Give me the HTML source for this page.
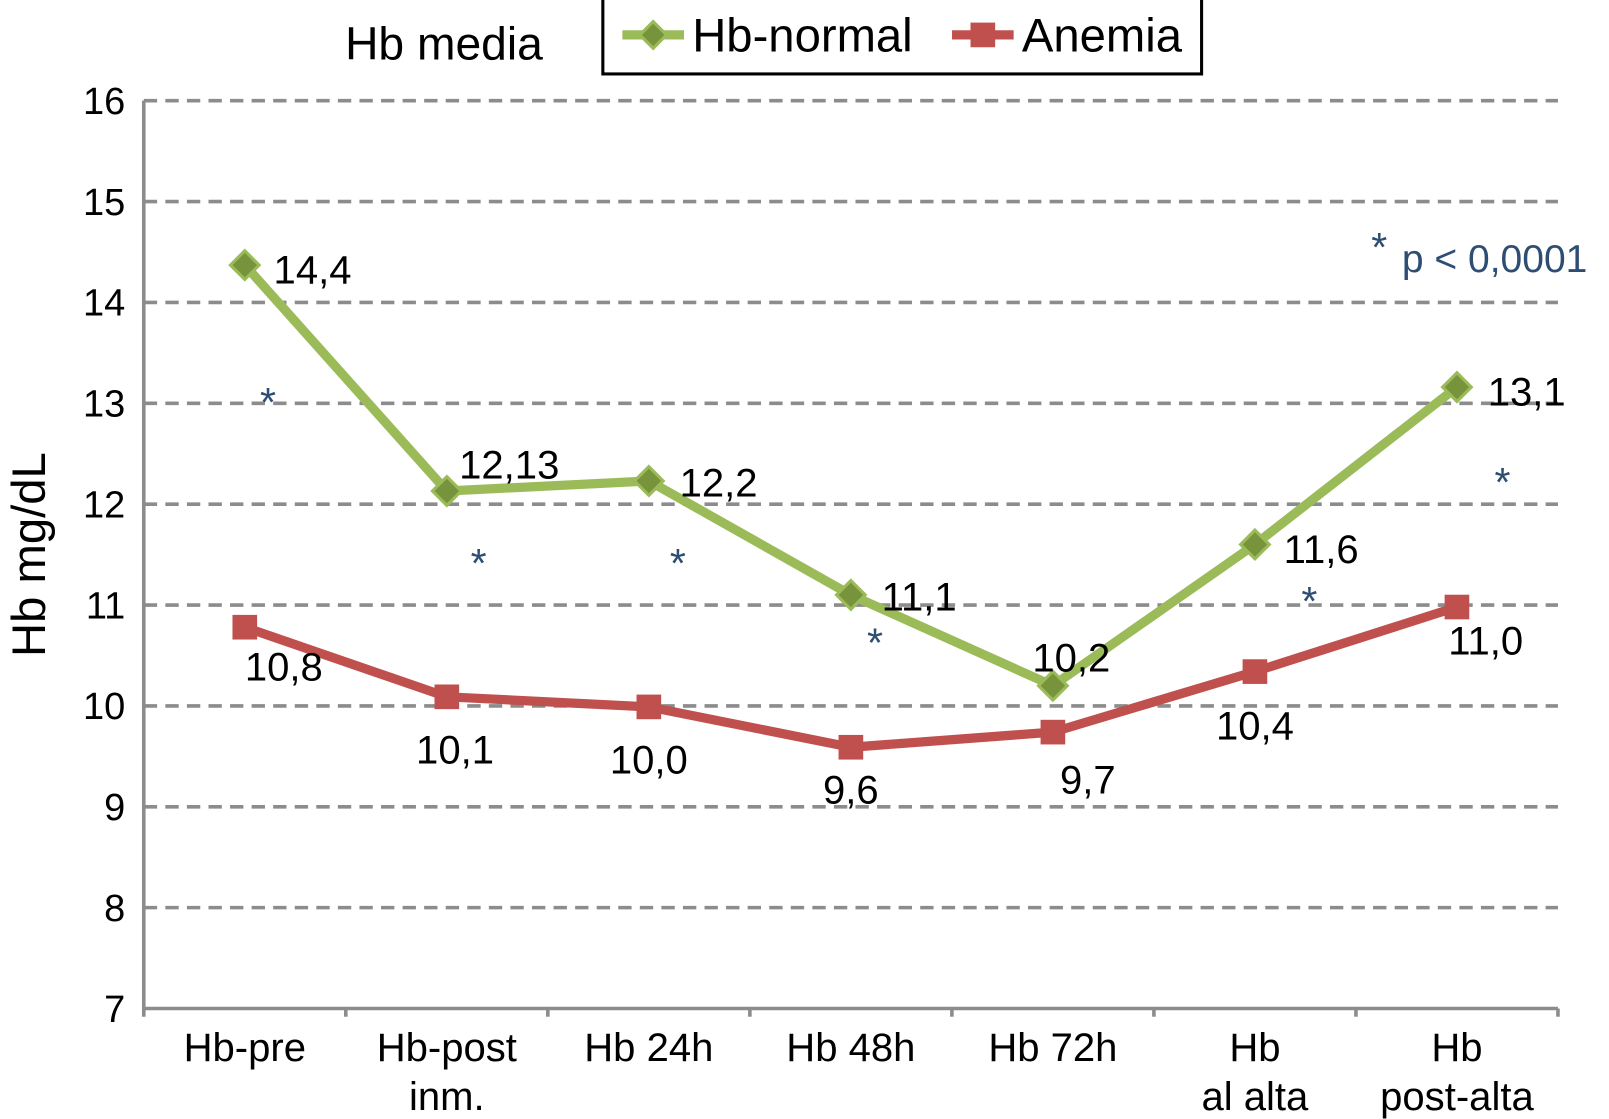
<!DOCTYPE html>
<html><head><meta charset="utf-8"><style>
html,body{margin:0;padding:0;background:#fff;}
svg{display:block;font-family:"Liberation Sans",Arial,sans-serif;}
</style></head><body>
<svg id="chart" width="1609" height="1119" viewBox="0 0 1609 1119">
<g id="root" transform="scale(1.027)"></g>
</svg>
<script>
const categories=[["Hb-pre"],["Hb-post","inm."],["Hb 24h"],["Hb 48h"],["Hb 72h"],["Hb","al alta"],["Hb","post-alta"]];
const normalValues=[14.37,12.13,12.23,11.1,10.2,11.6,13.16];
const anemiaValues=[10.78,10.09,9.99,9.59,9.74,10.34,10.98];
const normalLabels=["14,4","12,13","12,2","11,1","10,2","11,6","13,1"];
const anemiaLabels=["10,8","10,1","10,0","9,6","9,7","10,4","11,0"];
const yTicks=[7,8,9,10,11,12,13,14,15,16];

const NS="http://www.w3.org/2000/svg";
const root=document.getElementById('root');
const L=140,R=1517,T=98,B=982,yMin=7,yMax=16;
const step=(R-L)/categories.length;
function xs(i){return L+(i+0.5)*step;}
function ys(v){return B-(v-yMin)/(yMax-yMin)*(B-T);}
function mk(tag,attrs,txt){const e=document.createElementNS(NS,tag);for(const k in attrs)e.setAttribute(k,attrs[k]);if(txt!=null)e.textContent=txt;root.appendChild(e);return e;}

yTicks.forEach(v=>{
  if(v>yMin){const g=mk('line',{x1:L,x2:R,y1:ys(v),y2:ys(v),stroke:'#8c8c8c','stroke-width':3.5,'stroke-dasharray':'13,8'});
  
  }
  const t=mk('text',{x:122,y:ys(v)+13,'font-size':37,'text-anchor':'end',fill:'#000'},String(v));
  
  
});
const ya=mk('line',{x1:L,x2:L,y1:T,y2:B,stroke:'#8c8c8c','stroke-width':3.5});


const xa=mk('line',{x1:L,x2:R,y1:B,y2:B,stroke:'#8c8c8c','stroke-width':3.5});


for(let i=0;i<=categories.length;i++){
  const tk=mk('line',{x1:L+i*step,x2:L+i*step,y1:B,y2:B+8,stroke:'#8c8c8c','stroke-width':3.5});
  
  
}
categories.forEach((c,i)=>{
  c.forEach((line,j)=>{
    const t=mk('text',{x:xs(i),y:1033+j*48,'font-size':39,'text-anchor':'middle',fill:'#000'},line);
    
    
  });
});
const yt=mk('text',{x:0,y:0,'font-size':46,'text-anchor':'middle',transform:'translate(44,540) rotate(-90)',fill:'#000'},'Hb mg/dL');



function series(vals,color,name){
  const pts=vals.map((v,i)=>xs(i)+','+ys(v)).join(' ');
  const p=mk('polyline',{points:pts,fill:'none',stroke:color,'stroke-width':9,'stroke-linejoin':'round'});
  
  
}
series(normalValues,'#9bbb59','hb-normal');
series(anemiaValues,'#c0504d','anemia');
normalValues.forEach((v,i)=>{
  const x=xs(i),y=ys(v);
  const d=mk('polygon',{points:`${x},${y-14} ${x+14},${y} ${x},${y+14} ${x-14},${y}`,fill:'#77933c',stroke:'#9bbb59','stroke-width':3});
  
  
});
anemiaValues.forEach((v,i)=>{
  const x=xs(i),y=ys(v);
  const s=mk('rect',{x:x-12,y:y-12,width:24,height:24,fill:'#c0504d'});
  
  
});
const nOff=[[28,18],[12,-12],[30,15],[30,15],[-20,-14],[28,18],[30,18]];
const aOff=[[38,52],[8,65],[0,65],[0,55],[34,60],[0,66],[28,46]];
normalValues.forEach((v,i)=>{
  const t=mk('text',{x:xs(i)+nOff[i][0],y:ys(v)+nOff[i][1],'font-size':39,fill:'#000'},normalLabels[i]);
  
  
});
anemiaValues.forEach((v,i)=>{
  const t=mk('text',{x:xs(i)+aOff[i][0],y:ys(v)+aOff[i][1],'font-size':39,'text-anchor':'middle',fill:'#000'},anemiaLabels[i]);
  
  
});
[[261,383],[466,540],[660,540],[852,617],[1275,577],[1463,461],[1343,232]].forEach(a=>{
  const t=mk('text',{x:a[0],y:a[1]+22,'font-size':40,'text-anchor':'middle',fill:'#2e4d73'},'*');
  
  
});
const pv=mk('text',{x:1365,y:265,'font-size':38,fill:'#2e4d73'},'p < 0,0001');


const ti=mk('text',{x:336,y:58,'font-size':45,fill:'#000'},'Hb media');


const lb=mk('rect',{x:587,y:-2,width:583,height:74,fill:'#fff',stroke:'#000','stroke-width':3});


const l1=mk('line',{x1:606,x2:666,y1:34,y2:34,stroke:'#9bbb59','stroke-width':9});


const l1m=mk('polygon',{points:'636,21 649,34 636,47 623,34',fill:'#77933c',stroke:'#9bbb59','stroke-width':3});


const l1t=mk('text',{x:674,y:50,'font-size':46,fill:'#000'},'Hb-normal');


const l2=mk('line',{x1:927,x2:987,y1:34,y2:34,stroke:'#c0504d','stroke-width':9});


const l2m=mk('rect',{x:945,y:22,width:24,height:24,fill:'#c0504d'});


const l2t=mk('text',{x:995,y:50,'font-size':46,fill:'#000'},'Anemia');


</script>
</body></html>
